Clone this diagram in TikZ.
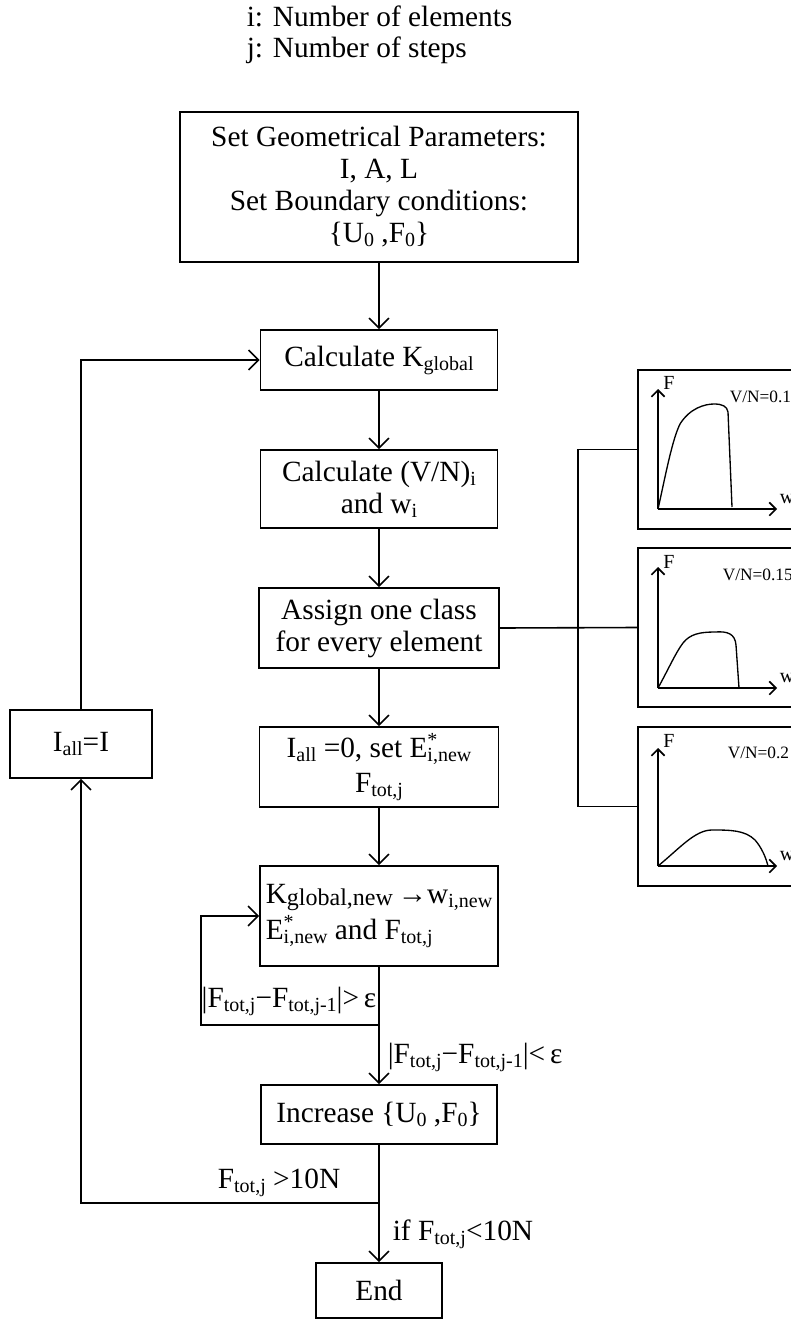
\documentclass[tikz,border=0pt]{standalone}
\usepackage{fontspec}
\setmainfont{Liberation Serif}
\usetikzlibrary{arrows.meta}
\newcommand{\sbt}[1]{\raisebox{-0.3ex}{\fontsize{15}{15}\selectfont #1}}
\newcommand{\spsb}[2]{\rlap{\raisebox{0.85ex}{\fontsize{15}{15}\selectfont #1}}\sbt{#2}}
\begin{document}
\begin{tikzpicture}[x=0.75pt,y=-0.75pt,line width=1.2pt,
  font=\fontsize{22}{24}\selectfont,
  box/.style={draw,inner sep=0pt,align=center},
  arr/.style={-{Straight Barb[length=7.5pt,width=15pt]}},
  garr/.style={-{Straight Barb[length=5pt,width=10pt]}},
  gbox/.style={draw,minimum width=121.5pt,minimum height=119.25pt,inner sep=0pt},
  gsmall/.style={font=\fontsize{15}{15}\selectfont,inner sep=0pt},
  vn/.style={font=\fontsize{13}{13}\selectfont,inner sep=0pt,anchor=west}]
\useasboundingbox (0,0) rectangle (791,1320);
\clip (0,0) rectangle (791,1320);
\fill[white] (0,0) rectangle (791,1320);

% header
\node[anchor=base west,inner sep=0pt] (h1) at (246,27) {i: Number of elements};
\node[anchor=base west,inner sep=0pt] (h2) at (246,58) {j: Number of steps};

% main column
\node[box,minimum width=298.5pt,minimum height=112.5pt] (b1) at (379,187)
  {Set Geometrical Parameters:\\ I, A, L\\ Set Boundary conditions:\\ \{U\sbt{0} ,F\sbt{0}\}};
\node[box,minimum width=177.75pt,minimum height=45pt] (b2) at (379,360)
  {Calculate K\sbt{global}};
\node[box,minimum width=177.75pt,minimum height=58.5pt] (b3) at (379,489)
  {Calculate (V/N)\sbt{i}\\ and w\sbt{i}};
\node[box,minimum width=180pt,minimum height=60pt] (b4) at (379,628)
  {Assign one class\\ for every element};
\node[box,minimum width=179.25pt,minimum height=60pt] (b5) at (379,767)
  {I\sbt{all} =0, set E\spsb{*}{i,new}\\[2pt] F\sbt{tot,j}};
\node[box,minimum width=178.5pt,minimum height=75pt,align=left] (b6) at (379,916)
  {K\raisebox{-0.15ex}{\fontsize{18}{18}\selectfont global,new}\,→w\sbt{i,new}\\[3pt] E\spsb{*}{i,new} and F\sbt{tot,j}};
\node[box,minimum width=177pt,minimum height=44.25pt] (b7) at (379,1114.5)
  {Increase \{U\sbt{0} ,F\sbt{0}\}};
\node[box,minimum width=94.5pt,minimum height=41.25pt] (end) at (379,1290.5) {End};
\node[box,minimum width=106.5pt,minimum height=51pt] (iall) at (81,744) {I\sbt{all}=I};

% connectors main column
\draw[arr] (b1.south) -- (b2.north);
\draw[arr] (b2.south) -- (b3.north);
\draw[arr] (b3.south) -- (b4.north);
\draw[arr] (b4.south) -- (b5.north);
\draw[arr] (b5.south) -- (b6.north);
\draw[arr] (b6.south) -- (b7.north);
\draw[arr] (b7.south) -- (end.north);

% inner loop
\coordinate (lp) at (379,1025);
\coordinate (lpl) at (201,1025);
\draw[arr] (lp) -- (lpl) |- (b6.west);
\node[inner sep=0pt] (l1) at (289,1001) {|F\sbt{tot,j}−F\sbt{tot,j-1}|>\,ε};
\node[inner sep=0pt,anchor=west] (l2) at (387,1057) {|F\sbt{tot,j}−F\sbt{tot,j-1}|<\,ε};

% outer loop
\coordinate (br) at (379,1203);
\coordinate (brl) at (81,1203);
\coordinate (tl) at (81,360);
\draw[arr] (br) -- (brl) -- (iall.south);
\draw[arr] (iall.north) -- (tl) -- (b2.west);
\node[inner sep=0pt,anchor=east] (l3) at (341,1183) {F\sbt{tot,j} >10N};
\node[inner sep=0pt,anchor=west] (l4) at (392,1234) {if F\sbt{tot,j}<10N};

% graphs
\node[gbox] (g1) at (719,449.5) {};
\node[gbox] (g2) at (719,627.5) {};
\node[gbox] (g3) at (719,806.5) {};
\coordinate (jx) at (578,628);
\draw (b4.east) -- (g2.west);
\draw (g1.west) -| (jx) |- (g3.west);

% graph 1
\coordinate (o1) at (658,509);
\draw[garr] (o1) -- (658,389);
\draw[garr] (o1) -- (777,509);
\node[gsmall] (f1) at (669,383) {F};
\node[gsmall] (w1) at (787,499) {w};
\node[vn] (v1) at (729,397) {V/N=0.1};
\draw[line width=1pt] (o1) .. controls (665,478) and (672,440) .. (680,424)
  .. controls (690,408) and (705,404) .. (714,404)
  .. controls (722,404) and (727,406) .. (728,412) -- (732,507);

% graph 2
\coordinate (o2) at (658,688);
\draw[garr] (o2) -- (658,567);
\draw[garr] (o2) -- (777,688);
\node[gsmall] (f2) at (669,562) {F};
\node[gsmall] (w2) at (787,678) {w};
\node[vn] (v2) at (722,575) {V/N=0.15};
\draw[line width=1pt] (o2) .. controls (668,670) and (676,652) .. (683,643)
  .. controls (690,634) and (700,632) .. (715,632)
  .. controls (728,631) and (735,634) .. (736,645) -- (739,688);

% graph 3
\coordinate (o3) at (658,866);
\draw[garr] (o3) -- (658,748);
\draw[garr] (o3) -- (777,866);
\node[gsmall] (f3) at (669,741) {F};
\node[gsmall] (w3) at (787,856) {w};
\node[vn] (v3) at (727,753) {V/N=0.2};
\draw[line width=1pt] (o3) .. controls (680,848) and (695,830) .. (712,830)
  .. controls (730,830) and (745,830) .. (755,840)
  .. controls (762,848) and (766,858) .. (768,866);
\end{tikzpicture}
\end{document}
